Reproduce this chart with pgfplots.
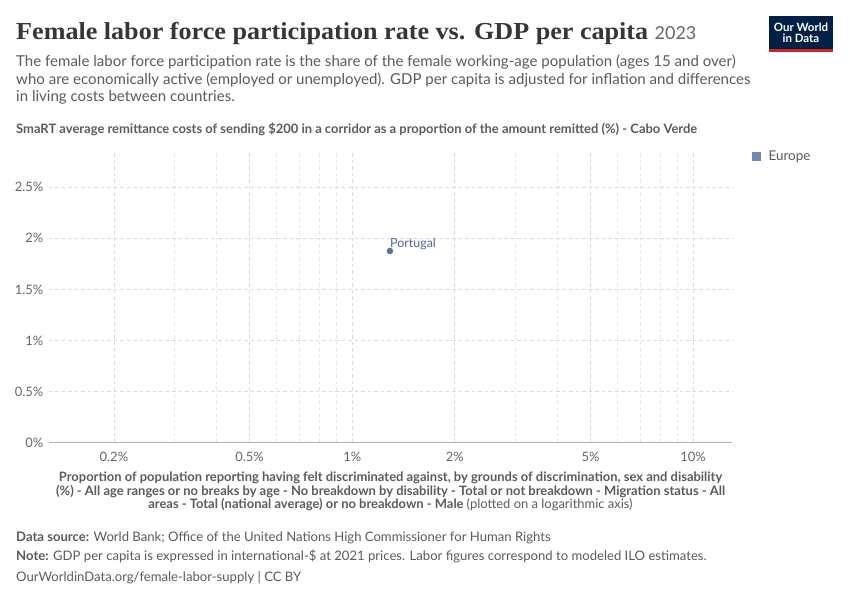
\documentclass[border=0pt]{standalone}
\usepackage{pgfplots}
\pgfplotsset{compat=1.18}
\usepackage{fontspec}
\setmainfont{Lato}
\newfontfamily\titlefont[FakeStretch=1.07]{Liberation Serif}
\definecolor{titlecol}{HTML}{363636}
\definecolor{subcol}{HTML}{5B5B5B}
\definecolor{labelgray}{HTML}{666666}
\definecolor{gridgray}{HTML}{DADADA}
\definecolor{minorgray}{HTML}{E6E6E6}
\definecolor{axisgray}{HTML}{B0B0B0}
\definecolor{eucol}{HTML}{4C6A9C}
\definecolor{eupoint}{HTML}{5A74A3}
\definecolor{eulegend}{HTML}{6F87B3}
\definecolor{logoblue}{HTML}{002147}
\definecolor{logored}{HTML}{CE261E}
\begin{document}
\begin{tikzpicture}[x=1bp,y=1bp]
\path[use as bounding box] (0,0) rectangle (850,600);
\fill[white] (0,0) rectangle (850,600);
% title
\node[anchor=base west, inner sep=0pt, text=titlecol] at (16,560) {\titlefont\bfseries\fontsize{24.5}{24.5}\selectfont Female labor force participation rate vs. GDP per capita\ {\normalfont\fontsize{18}{18}\selectfont\color{labelgray}2023}};
% subtitle
\begin{scope}[every node/.style={anchor=base west, inner sep=0pt, text=subcol, font=\fontsize{15.1}{18}\selectfont}]
\node at (16,533) {The female labor force participation rate is the share of the female working-age population (ages 15 and over)};
\node at (16,515.5) {who are economically active (employed or unemployed). GDP per capita is adjusted for inflation and differences};
\node at (16,498) {in living costs between countries.};
\end{scope}
% y axis title
\node[anchor=base west, inner sep=0pt, text=subcol, font=\bfseries\fontsize{13}{13}\selectfont] at (16,466.5) {SmaRT average remittance costs of sending \$200 in a corridor as a proportion of the amount remitted (\%) - Cabo Verde};
% logo
\fill[logoblue] (769,548) rectangle (833,584);
\fill[logored] (769,548) rectangle (833,551);
\node[anchor=base, inner sep=0pt, text=white, font=\bfseries\fontsize{11.5}{11.5}\selectfont] at (801,568.3) {Our World};
\node[anchor=base, inner sep=0pt, text=white, font=\bfseries\fontsize{11.5}{11.5}\selectfont] at (801,557.7) {in Data};
% x axis title
\begin{scope}[every node/.style={anchor=base, inner sep=0pt, text=subcol, font=\bfseries\fontsize{13}{13}\selectfont}]
\node at (390.5,118) {Proportion of population reporting having felt discriminated against, by grounds of discrimination, sex and disability};
\node at (390.5,104.5) {(\%) - All age ranges or no breaks by age - No breakdown by disability - Total or not breakdown - Migration status - All};
\node at (390.5,91) {areas - Total (national average) or no breakdown - Male {\mdseries (plotted on a logarithmic axis)}};
\end{scope}
% footer
\begin{scope}[every node/.style={anchor=base west, inner sep=0pt, text=subcol, font=\fontsize{13.15}{13.15}\selectfont}]
\node at (16,58.5) {\textbf{Data source:} World Bank; Office of the United Nations High Commissioner for Human Rights};
\node at (16,39.5) {\textbf{Note:} GDP per capita is expressed in international-\$ at 2021 prices. Labor figures correspond to modeled ILO estimates.};
\node at (16,18.5) {OurWorldinData.org/female-labor-supply | CC BY};
\end{scope}
\begin{axis}[
  at={(49bp,157.3bp)}, anchor=south west,
  scale only axis, width=683bp, height=291.7bp,
  xmode=log, log basis x=10,
  xmin=0.129, xmax=13.0, ymin=0, ymax=2.855,
  axis x line*=bottom, axis y line*=left,
  x axis line style={draw=axisgray, line width=1bp, -},
  y axis line style={draw=none},
  xtick={0.2,0.5,1,2,5,10},
  xticklabels={0.2\%,0.5\%,1\%,2\%,5\%,10\%},
  minor xtick={0.3,0.4,0.6,0.7,0.8,0.9,3,4,6,7,8,9},
  ytick={0.5,1,1.5,2,2.5},
  yticklabels={0.5\%,1\%,1.5\%,2\%,2.5\%},
  extra y ticks={0}, extra y tick labels={0\%},
  extra y tick style={grid=none},
  xmajorgrids, xminorgrids, ymajorgrids,
  grid style={dash pattern=on 3.5bp off 3bp, line width=0.7bp, color=gridgray},
  minor grid style={dash pattern=on 3.5bp off 3bp, line width=0.7bp, color=minorgray},
  major tick length=0pt, minor tick length=0pt,
  tick style={draw=none},
  ticklabel style={font=\fontsize{13}{13}\selectfont, text=labelgray},
  yticklabel style={anchor=east, inner sep=0pt, xshift=-5.5bp},
  xticklabel style={anchor=base, inner sep=0pt, yshift=-18.5bp},
  clip=false,
  legend style={at={(1,1)}, anchor=north west, xshift=20bp, yshift=2bp, draw=none, fill=none, inner sep=0pt,
    font=\fontsize{13.5}{13.5}\selectfont, text=subcol},
  legend cell align=left,
]
\addplot[only marks, mark=*, mark size=3bp, mark options={draw=eupoint, fill=eupoint}, forget plot]
  coordinates {(1.29,1.876)}
  node[anchor=base west, inner sep=0pt, yshift=3.7bp, font=\fontsize{12.5}{12.5}\selectfont, text=eucol] {Portugal};
\addlegendimage{legend image code/.code={\path[fill=eulegend, draw=none] (0bp,-4.5bp) rectangle (9bp,4.5bp); \path (0bp,0bp) (14bp,0bp);}}
\addlegendentry{Europe}
\end{axis}
\end{tikzpicture}
\end{document}
